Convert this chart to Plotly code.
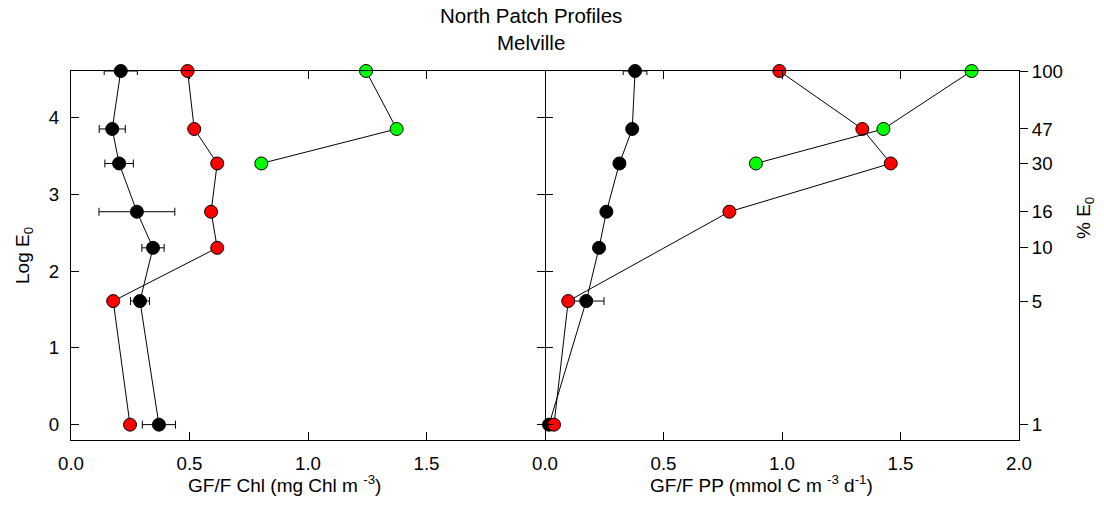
import math
import plotly.graph_objects as go

# Light levels (% E0) and their natural-log values (Log E0)
pct_levels = [100, 47, 30, 16, 10, 5, 1]
log_levels = [math.log(p) for p in pct_levels]
pct_labels = ["100", "47", "30", "16", "10", "5", "1"]

# Left panel: GF/F Chl (mg Chl m-3)
chl_black_y = [math.log(p) for p in [100, 47, 30, 16, 10, 5, 1]]
chl_black_x = [0.21, 0.174, 0.203, 0.278, 0.346, 0.291, 0.371]
chl_black_err = [0.07, 0.055, 0.06, 0.16, 0.047, 0.04, 0.07]

chl_red_y = [math.log(p) for p in [100, 47, 30, 16, 10, 5, 1]]
chl_red_x = [0.492, 0.520, 0.617, 0.591, 0.617, 0.178, 0.249]

chl_green_y = [math.log(p) for p in [100, 47, 30]]
chl_green_x = [1.245, 1.374, 0.803]

# Right panel: GF/F PP (mmol C m-3 d-1)
pp_black_y = [math.log(p) for p in [100, 47, 30, 16, 10, 5, 1]]
pp_black_x = [0.380, 0.368, 0.314, 0.259, 0.228, 0.174, 0.017]
pp_black_err = [0.05, 0.0, 0.0, 0.0, 0.0, 0.075, 0.0]

pp_red_y = [math.log(p) for p in [100, 47, 30, 16, 5, 1]]
pp_red_x = [0.989, 1.339, 1.459, 0.778, 0.098, 0.038]

pp_green_y = [math.log(p) for p in [100, 47, 30]]
pp_green_x = [1.80, 1.428, 0.890]

x_ticks_left = [0, 0.5, 1.0, 1.5]
x_ticks_right = [0, 0.5, 1.0, 1.5, 2.0]
y_ticks = [0, 1, 2, 3, 4]

FONT = "Liberation Sans, Arial, sans-serif"
MS = 13


def series(x, y, color, xa, ya, err=None):
    kw = dict(
        x=x, y=y, mode="lines+markers", xaxis=xa, yaxis=ya,
        line=dict(color="black", width=1),
        marker=dict(size=MS, color=color, line=dict(color="black", width=1)),
        cliponaxis=False, showlegend=False, hoverinfo="x+y",
    )
    if err is not None:
        kw["error_x"] = dict(type="data", array=err, visible=True,
                             color="black", thickness=1, width=4)
    return go.Scatter(**kw)


fig = go.Figure()
fig.add_trace(series(chl_black_x, chl_black_y, "black", "x", "y", chl_black_err))
fig.add_trace(series(chl_red_x, chl_red_y, "#ff0000", "x", "y"))
fig.add_trace(series(chl_green_x, chl_green_y, "#00ff00", "x", "y"))
fig.add_trace(series(pp_black_x, pp_black_y, "black", "x2", "y2", pp_black_err))
fig.add_trace(series(pp_red_x, pp_red_y, "#ff0000", "x2", "y2"))
fig.add_trace(series(pp_green_x, pp_green_y, "#00ff00", "x2", "y2"))
# invisible trace to activate right-side % E0 axis
fig.add_trace(go.Scatter(x=[0], y=[0], xaxis="x2", yaxis="y3", mode="markers",
                         marker=dict(opacity=0), showlegend=False, hoverinfo="skip"))

YR = [-0.2, math.log(100)]
tickfont = dict(family=FONT, size=18.7, color="black")

common_x = dict(range=[0, 2.0], showgrid=False, zeroline=False, showline=True,
                linecolor="black", linewidth=1, ticks="inside", ticklen=8,
                tickcolor="black", tickwidth=1, mirror="ticks", tickfont=tickfont,
                tickformat=".1f", ticklabelstandoff=7)

fig.update_layout(
    width=1104, height=519,
    margin=dict(l=71, r=85, t=71, b=79),
    paper_bgcolor="white", plot_bgcolor="white",
    font=dict(family=FONT, color="black"),
    xaxis=dict(domain=[0, 0.5], anchor="y", tickvals=x_ticks_left, **common_x),
    xaxis2=dict(domain=[0.5, 1.0], anchor="y2", tickvals=x_ticks_right, **common_x),
    yaxis=dict(range=YR, anchor="x", showgrid=False, zeroline=False, showline=True,
               linecolor="black", linewidth=1, ticks="inside", ticklen=8,
               tickcolor="black", mirror="ticks", tickvals=y_ticks, tickfont=tickfont,
               ticklabelstandoff=7),
    yaxis2=dict(range=YR, anchor="x2", showgrid=False, zeroline=False, showline=False,
                ticks="inside", ticklen=8,
                tickcolor="black", mirror=False, tickvals=y_ticks, showticklabels=False),
    yaxis3=dict(range=YR, anchor="x2", overlaying="y2", side="right", showgrid=False,
                zeroline=False, showline=True, linecolor="black", linewidth=1,
                ticks="outside", ticklen=8, tickcolor="black",
                tickvals=log_levels, ticktext=pct_labels, tickfont=tickfont),
)

ann_font = dict(family=FONT, size=19, color="black")
fig.add_annotation(text="North Patch Profiles<br>Melville", xref="paper", yref="paper",
                   x=(531 - 71) / 948, y=(440 - 29) / 369, showarrow=False,
                   xanchor="center", yanchor="middle",
                   font=dict(family=FONT, size=20.5, color="black"))
fig.add_annotation(text="GF/F Chl (mg Chl m <sup>-3</sup>)", xref="paper", yref="paper",
                   x=(284 - 71) / 948, y=(440 - 484) / 369, showarrow=False,
                   xanchor="center", yanchor="middle", font=ann_font)
fig.add_annotation(text="GF/F PP (mmol C m <sup>-3</sup> d<sup>-1</sup>)", xref="paper",
                   yref="paper", x=(761.5 - 71) / 948, y=(440 - 484) / 369,
                   showarrow=False, xanchor="center", yanchor="middle", font=ann_font)
fig.add_annotation(text="Log E<sub>0</sub>", xref="paper", yref="paper",
                   x=(24 - 71) / 948, y=(440 - 256) / 369, showarrow=False,
                   textangle=-90, xanchor="center", yanchor="middle", font=ann_font)
fig.add_annotation(text="% E<sub>0</sub>", xref="paper", yref="paper",
                   x=(1085 - 71) / 948, y=(440 - 218) / 369, showarrow=False,
                   textangle=-90, xanchor="center", yanchor="middle", font=ann_font)

fig.write_html("out.html", config={"displayModeBar": False},
               post_script="document.body.style.margin='0';document.body.style.overflow='hidden';")
